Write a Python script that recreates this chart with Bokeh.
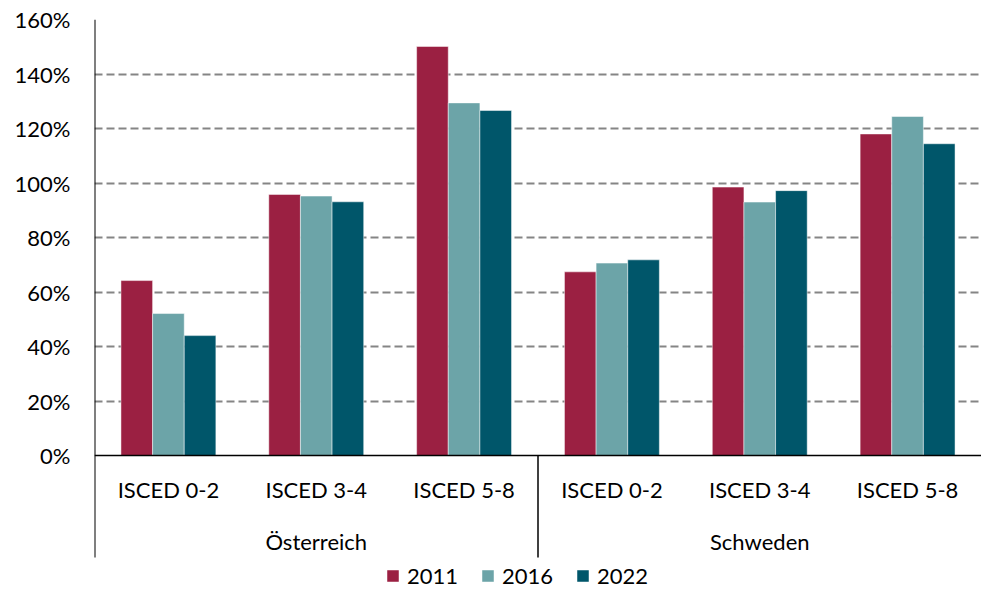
from bokeh.plotting import figure
from bokeh.models import Range1d, FixedTicker, PrintfTickFormatter, ColumnDataSource, Legend, LegendItem
from bokeh.core.properties import value
from bokeh.embed import file_html
from bokeh.resources import INLINE

countries = ["Österreich", "Schweden"]
levels = ["ISCED 0-2", "ISCED 3-4", "ISCED 5-8"]
years = ["2011", "2016", "2022"]
v2011 = [64.2, 95.8, 150.1, 67.4, 98.5, 118.0]
v2016 = [52.1, 95.2, 129.4, 70.6, 93.0, 124.4]
v2022 = [44.0, 93.1, 126.6, 71.8, 97.2, 114.4]
y_ticks = [0, 20, 40, 60, 80, 100, 120, 140, 160]

colors = ["#9B2042", "#6CA4A8", "#00566A"]
FONT = "Lato"
FS = "22px"

n_groups = len(countries) * len(levels)
y_axis_low = -37.4   # bottom of the category axis block
y_low = -49.9        # bottom of frame (legend area)
p = figure(width=981, height=591, output_backend="svg", toolbar_location=None,
           x_range=Range1d(0, n_groups), y_range=Range1d(y_low, 160),
           min_border_left=94, min_border_right=0, min_border_top=19, min_border_bottom=0)
p.outline_line_color = None
p.background_fill_color = "white"
p.border_fill_color = "white"
p.xaxis.visible = False
p.xgrid.visible = False

p.yaxis.ticker = FixedTicker(ticks=y_ticks)
p.yaxis.formatter = PrintfTickFormatter(format="%d%%")
p.yaxis.major_tick_line_color = None
p.yaxis.major_tick_out = 0
p.yaxis.major_tick_in = 0
p.yaxis.minor_tick_line_color = None
p.yaxis.minor_tick_out = 0
p.yaxis.axis_line_color = None
p.yaxis.major_label_text_font = FONT
p.yaxis.major_label_text_font_size = FS
p.yaxis.major_label_text_color = "black"
p.yaxis.major_label_standoff = 24

p.ygrid.ticker = FixedTicker(ticks=[t for t in y_ticks if t > 0])
p.ygrid.grid_line_color = "#858585"
p.ygrid.grid_line_width = 1.8
p.ygrid.grid_line_dash = "8 4"

bw = 0.214
series = [v2011, v2016, v2022]
renderers = []
for k, vals in enumerate(series):
    xs = [i + 0.5 + (k - 1) * bw for i in range(n_groups)]
    src = ColumnDataSource(dict(x=xs, top=vals))
    r = p.vbar(x="x", top="top", bottom=0, width=bw, source=src,
               fill_color=colors[k], line_color="white", line_width=0.8, line_alpha=0.6)
    renderers.append(r)

# axis lines
p.segment(x0=[0], y0=[0], x1=[n_groups], y1=[0], line_color="black", line_width=1.5)
p.segment(x0=[0], y0=[y_ticks[-1]], x1=[0], y1=[y_axis_low], line_color="black", line_width=2)
# country separator
for c in range(1, len(countries)):
    xsep = c * len(levels)
    p.segment(x0=[xsep], y0=[0], x1=[xsep], y1=[y_axis_low], line_color="black", line_width=1.5)

# category labels
lab_x = [i + 0.5 for i in range(n_groups)]
lab_t = [lv for c in countries for lv in levels]
p.text(x=lab_x, y=[-12.5] * n_groups, text=lab_t, text_align="center", text_baseline="middle",
       text_font=value(FONT), text_font_size=FS, text_color="black")
cx = [c * len(levels) + len(levels) / 2 for c in range(len(countries))]
p.text(x=cx, y=[-31.6] * len(countries), text=countries, text_align="center", text_baseline="middle",
       text_font=value(FONT), text_font_size=FS, text_color="black")

legend = Legend(items=[LegendItem(label=years[k], renderers=[renderers[k]]) for k in range(3)],
                orientation="horizontal", location=(291, 2))
legend.glyph_width = 15
legend.glyph_height = 15
legend.label_standoff = 7
legend.spacing = 22
legend.padding = 0
legend.margin = 0
legend.border_line_color = None
legend.background_fill_alpha = 0
legend.label_text_font = FONT
legend.label_text_font_size = FS
legend.label_text_color = "black"
p.add_layout(legend, "center")

open("out.html", "w").write(file_html(p, INLINE))
